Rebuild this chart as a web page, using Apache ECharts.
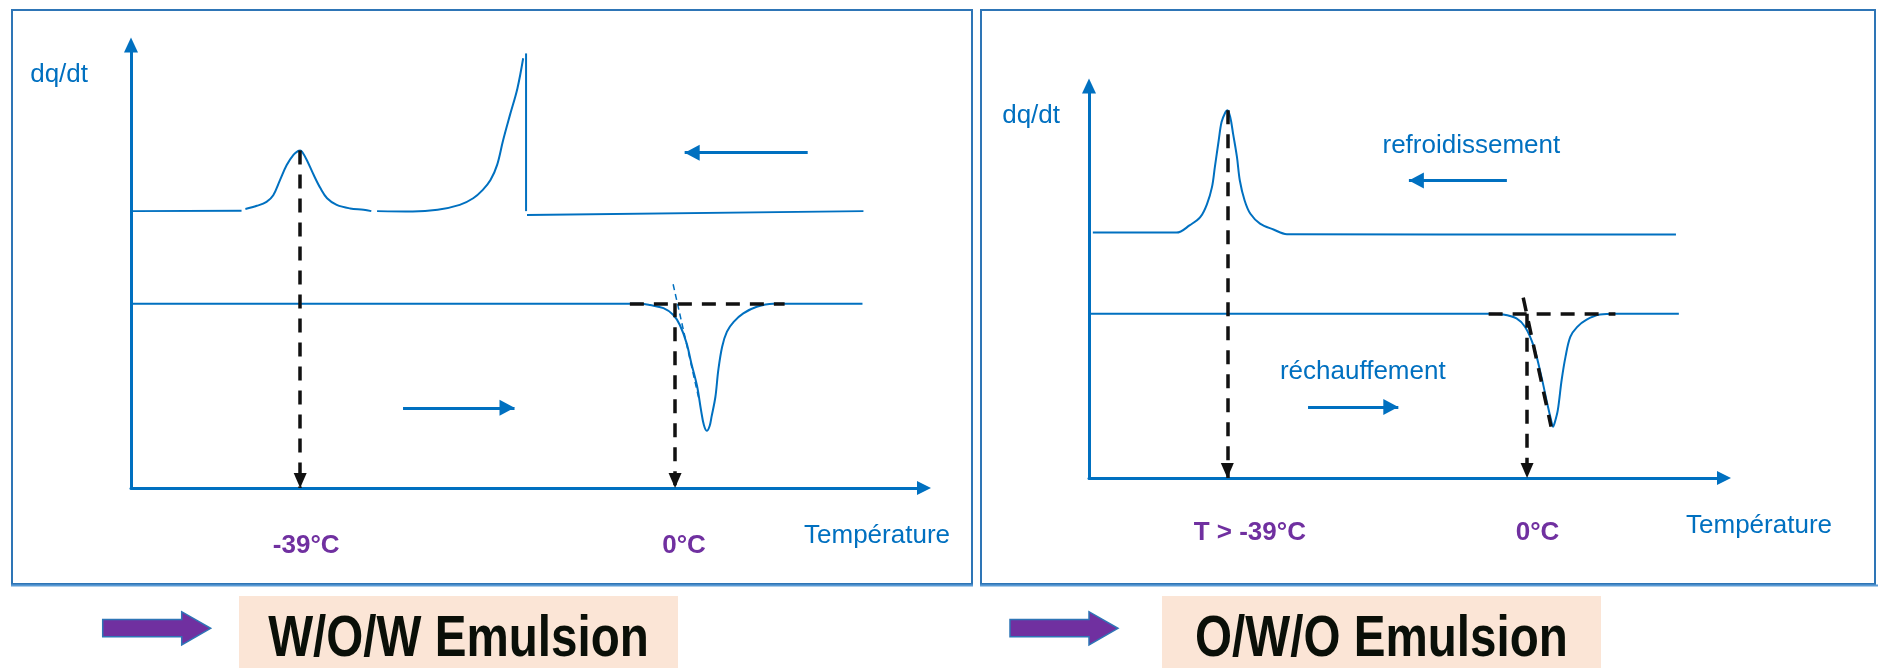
<!DOCTYPE html>
<html>
<head>
<meta charset="utf-8">
<title>DSC – émulsions multiples</title>
<script src="https://cdn.jsdelivr.net/npm/echarts@6/dist/echarts.min.js"></script>
<style>
  html, body { margin: 0; padding: 0; background: #ffffff; }
  #chart { width: 1878px; height: 668px; }
</style>
</head>
<body>
<div id="chart"></div>
<script>
// Thermograms: temperature in °C, heat flow dq/dt in arbitrary units (0–100).

// ---- W/O/W emulsion (left panel) ----
const wowTickValues = [-39, 0];
const wowTickLabels = ['-39°C', '0°C'];

// cooling trace, drawn in separate pieces
const wowCoolStart = [[-56.6, 62.5], [-45.1, 62.6]];
const wowCoolBump = [
  [-44.7, 63.0], [-43.5, 63.7], [-42.5, 64.6], [-41.8, 66.1], [-41.1, 69.5],
  [-40.4, 72.9], [-39.7, 75.2], [-39.2, 76.1], [-39.0, 76.2], [-38.8, 75.9],
  [-38.3, 74.0], [-37.6, 70.7], [-36.9, 67.7], [-36.2, 65.4], [-35.2, 63.9],
  [-33.8, 63.1], [-32.4, 62.8], [-31.6, 62.5]
];
const wowCoolRise = [
  [-31.0, 62.5], [-27.3, 62.4], [-24.7, 62.8], [-22.4, 63.9], [-21.0, 65.4],
  [-20.0, 67.3], [-19.2, 69.5], [-18.5, 73.0], [-17.9, 78.4], [-17.2, 84.0],
  [-16.4, 90.2], [-15.8, 97.0]
];
const wowCoolDrop = [[-15.5, 98.1], [-15.5, 62.5]];
const wowCoolTail = [[-15.4, 61.6], [19.6, 62.5]];

// heating trace
const wowHeat = [
  [-56.4, 41.6], [-3.6, 41.6], [-2.6, 41.3], [-1.2, 40.6], [-0.2, 39.1],
  [0.5, 36.8], [1.2, 32.7], [1.7, 28.1], [2.3, 22.9], [2.7, 17.6],
  [3.0, 14.2], [3.3, 12.9], [3.6, 14.0], [3.8, 16.1], [4.2, 20.6],
  [4.5, 26.6], [4.9, 31.9], [5.4, 35.3], [6.1, 37.5], [7.1, 39.4],
  [8.5, 40.9], [10.2, 41.6], [19.5, 41.6]
];
const wowOnsetTangent = [[-0.2, 46.0], [2.5, 19.9]];
const wowBaselineGuide = [[-4.7, 41.7], [11.4, 41.7]];
const wowCoolingArrow = [[13.8, 75.7], [1.0, 75.7]];
const wowHeatingArrow = [[-28.3, 18.1], [-16.7, 18.1]];

// ---- O/W/O emulsion (right panel) ----
const oooTickValues = [-31.2, 0];
const oooTickLabels = ['T > -39°C', '0°C'];

const oooCool = [
  [-45.2, 62.6], [-36.5, 62.6], [-35.1, 64.5], [-34.0, 66.6], [-33.3, 70.0],
  [-32.8, 74.2], [-32.5, 79.3], [-32.1, 86.1], [-31.8, 90.8], [-31.4, 93.3],
  [-31.2, 93.8], [-30.9, 92.1], [-30.6, 87.8], [-30.2, 81.9], [-29.9, 75.9],
  [-29.4, 70.8], [-28.8, 67.4], [-27.8, 64.9], [-26.4, 63.4], [-25.0, 62.2],
  [15.5, 62.1]
];
const oooHeat = [
  [-45.4, 41.9], [-4.0, 41.9], [-2.5, 41.7], [-1.1, 40.7], [-0.2, 38.5],
  [0.7, 33.5], [1.5, 25.8], [2.1, 19.0], [2.5, 14.8], [2.7, 13.1],
  [2.9, 14.3], [3.2, 17.3], [3.6, 25.0], [4.0, 30.9], [4.5, 36.0],
  [5.2, 38.5], [6.2, 40.4], [7.6, 41.7], [9.2, 41.9], [15.8, 41.9]
];
const oooOnsetTangent = [[-0.4, 46.0], [2.5, 13.1]];
const oooBaselineGuide = [[-4.0, 41.9], [9.2, 41.9]];
const oooCoolingArrow = [[-2.1, 75.9], [-12.3, 75.9]];
const oooHeatingArrow = [[-22.8, 18.1], [-13.4, 18.1]];
const oooNotes = ['refroidissement', 'réchauffement'];
const oooNoteAt = [[-5.8, 84.8], [-17.1, 27.0]];

const axisTitles = ['dq/dt', 'Température'];
const emulsionNames = ['W/O/W Emulsion', 'O/W/O Emulsion'];

// ---- styling ----
const BLUE = '#0070C0';
const PURPLE = '#7030A0';
const INK = '#111111';
const FONT = '"Liberation Sans", Arial, sans-serif';

function peakOf(points) {
  return points.reduce((a, b) => (b[1] > a[1] ? b : a));
}

function curve(name, data, gi, extra) {
  return Object.assign({
    name: name,
    type: 'line',
    xAxisIndex: gi,
    yAxisIndex: gi,
    data: data,
    symbol: 'none',
    showSymbol: false,
    smooth: 0.35,
    silent: true,
    animation: false,
    z: 2,
    lineStyle: { color: BLUE, width: 2 }
  }, extra || {});
}

function guides(items) {
  return {
    silent: true,
    animation: false,
    symbol: ['none', 'none'],
    label: { show: false },
    emphasis: { disabled: true },
    lineStyle: { color: INK, width: 3.5, type: [14, 10] },
    data: items.map(it => [
      { coord: it.from },
      it.arrow
        ? { coord: it.to, symbol: 'triangle', symbolSize: [13, 15], symbolOffset: [0, '50%'] }
        : { coord: it.to, symbol: 'none' }
    ])
  };
}

function directionArrows(arrows) {
  return {
    silent: true,
    animation: false,
    symbol: ['none', 'none'],
    label: { show: false },
    emphasis: { disabled: true },
    lineStyle: { color: BLUE, width: 3, type: 'solid' },
    data: arrows.map(a => [
      { coord: a[0] },
      { coord: a[1], symbol: 'triangle', symbolSize: [16, 15], symbolOffset: [0, '50%'] }
    ])
  };
}

function tickLabel(values, labels, shifts) {
  const rich = {};
  labels.forEach((_, i) => {
    rich['t' + i] = {
      color: PURPLE, fontSize: 26, fontWeight: 'bold', fontFamily: FONT,
      padding: [0, 0, 0, shifts[i]]
    };
  });
  return {
    rich: rich,
    formatter: function (v) {
      const i = values.findIndex(t => Math.abs(t - v) < 1e-6);
      return i < 0 ? '' : '{t' + i + '|' + labels[i] + '}';
    }
  };
}

function xAxisFor(gi, min, max, values, labels, shifts, margin) {
  const tl = tickLabel(values, labels, shifts);
  return {
    gridIndex: gi,
    type: 'value',
    min: min,
    max: max,
    axisLine: {
      show: true, onZero: false,
      lineStyle: { color: BLUE, width: 3 },
      symbol: ['none', 'triangle'], symbolSize: [14, 14]
    },
    axisTick: { show: false },
    splitLine: { show: false },
    axisLabel: {
      show: true,
      customValues: values,
      margin: margin,
      color: PURPLE, fontSize: 26, fontWeight: 'bold', fontFamily: FONT,
      formatter: tl.formatter,
      rich: tl.rich
    }
  };
}

function yAxisFor(gi, namePadRight) {
  return {
    gridIndex: gi,
    type: 'value',
    min: 0,
    max: 100,
    name: axisTitles[0],
    nameLocation: 'end',
    nameGap: -30,
    nameMoveOverlap: false,
    nameTextStyle: {
      color: BLUE, fontSize: 26, fontFamily: FONT,
      align: 'right', verticalAlign: 'middle', padding: [0, namePadRight, 0, 0]
    },
    axisLine: {
      show: true, onZero: false,
      lineStyle: { color: BLUE, width: 3 },
      symbol: ['none', 'triangle'], symbolSize: [14, 15]
    },
    axisTick: { show: false },
    axisLabel: { show: false },
    splitLine: { show: false }
  };
}

const wowPeak = peakOf(wowCoolBump);
const oooPeak = peakOf(oooCool);

function arrowShape(x0, yMid) {
  // horizontal block arrow: shaft 79 px, head 29 px
  return [
    [x0, yMid - 8.7], [x0 + 79, yMid - 8.7], [x0 + 79, yMid - 16.6],
    [x0 + 108, yMid], [x0 + 79, yMid + 16.7], [x0 + 79, yMid + 8.4],
    [x0, yMid + 8.4]
  ];
}

function axisTitleText(xRight, yMid) {
  return {
    type: 'text', z: 3, silent: true, x: xRight, y: yMid,
    style: { text: axisTitles[1], x: 0, y: 0, align: 'right', verticalAlign: 'middle',
             fill: BLUE, fontSize: 26, fontFamily: FONT }
  };
}

const option = {
  backgroundColor: '#ffffff',
  animation: false,
  grid: [
    { left: 131, top: 45, width: 793, height: 443, outerBoundsMode: 'none', containLabel: false },
    { left: 1089, top: 86, width: 635, height: 392, outerBoundsMode: 'none', containLabel: false }
  ],
  xAxis: [
    xAxisFor(0, -56.6, 25.9, wowTickValues, wowTickLabels, [12, 18], 45),
    xAxisFor(1, -45.6, 20.5, oooTickValues, oooTickLabels, [45, 21], 42)
  ],
  yAxis: [yAxisFor(0, 43), yAxisFor(1, 29)],
  series: [
    curve('W/O/W refroidissement 1', wowCoolStart, 0),
    curve('W/O/W refroidissement 2', wowCoolBump, 0),
    curve('W/O/W refroidissement 3', wowCoolRise, 0),
    curve('W/O/W refroidissement 4', wowCoolDrop, 0, { smooth: false }),
    curve('W/O/W refroidissement 5', wowCoolTail, 0, {
      smooth: false,
      markLine: directionArrows([wowCoolingArrow, wowHeatingArrow])
    }),
    curve('W/O/W réchauffement', wowHeat, 0, {
      markLine: guides([
        { from: [wowTickValues[0], wowPeak[1]], to: [wowTickValues[0], 0], arrow: true },
        { from: [wowTickValues[1], wowBaselineGuide[0][1]], to: [wowTickValues[1], 0], arrow: true },
        { from: wowBaselineGuide[0], to: wowBaselineGuide[1], arrow: false }
      ])
    }),
    curve('W/O/W tangente', wowOnsetTangent, 0, {
      smooth: false,
      z: 3,
      lineStyle: { color: BLUE, width: 1.5, type: [6, 4] }
    }),
    curve('O/W/O refroidissement', oooCool, 1, {
      markLine: directionArrows([oooCoolingArrow, oooHeatingArrow]),
      markPoint: {
        silent: true,
        animation: false,
        symbol: 'circle',
        symbolSize: 0,
        itemStyle: { color: 'transparent' },
        label: {
          show: true, position: 'inside', formatter: '{b}',
          color: BLUE, fontSize: 26, fontFamily: FONT
        },
        data: oooNotes.map((n, i) => ({ name: n, coord: oooNoteAt[i] }))
      }
    }),
    curve('O/W/O réchauffement', oooHeat, 1, {
      markLine: guides([
        { from: [oooTickValues[0], oooPeak[1]], to: [oooTickValues[0], 0], arrow: true },
        { from: [oooTickValues[1], oooBaselineGuide[0][1]], to: [oooTickValues[1], 0], arrow: true },
        { from: oooBaselineGuide[0], to: oooBaselineGuide[1], arrow: false },
        { from: oooOnsetTangent[0], to: oooOnsetTangent[1], arrow: false }
      ])
    })
  ],
  graphic: [
    // panel frames
    { type: 'rect', z: 0, silent: true, shape: { x: 12, y: 10, width: 960, height: 574 },
      style: { fill: 'none', stroke: '#2E75B6', lineWidth: 2 } },
    { type: 'rect', z: 0, silent: true, shape: { x: 981, y: 10, width: 894, height: 574 },
      style: { fill: 'none', stroke: '#2E75B6', lineWidth: 2 } },
    { type: 'line', z: 0, silent: true, shape: { x1: 11, y1: 585.5, x2: 973, y2: 585.5 },
      style: { stroke: '#5B9BD5', lineWidth: 2 } },
    { type: 'line', z: 0, silent: true, shape: { x1: 980, y1: 585.5, x2: 1878, y2: 585.5 },
      style: { stroke: '#5B9BD5', lineWidth: 2 } },
    // temperature axis titles
    axisTitleText(950, 536),
    axisTitleText(1832, 526),
    // caption boxes
    { type: 'rect', z: 0, silent: true, shape: { x: 239, y: 596, width: 439, height: 72 },
      style: { fill: '#FBE5D6' } },
    { type: 'rect', z: 0, silent: true, shape: { x: 1162, y: 596, width: 439, height: 72 },
      style: { fill: '#FBE5D6' } },
    // pointer arrows
    { type: 'polygon', z: 1, silent: true, shape: { points: arrowShape(102.7, 628.3) },
      style: { fill: PURPLE, stroke: '#2E75B6', lineWidth: 1.5 } },
    { type: 'polygon', z: 1, silent: true, shape: { points: arrowShape(1010, 628.3) },
      style: { fill: PURPLE, stroke: '#2E75B6', lineWidth: 1.5 } },
    // captions
    { type: 'text', z: 2, silent: true, x: 458.5, y: 640, scaleX: 0.835,
      style: { text: emulsionNames[0], x: 0, y: 0, align: 'center', verticalAlign: 'middle',
               fill: '#0a0f08', fontSize: 57, fontWeight: 'bold', fontFamily: FONT } },
    { type: 'text', z: 2, silent: true, x: 1381.5, y: 640, scaleX: 0.835,
      style: { text: emulsionNames[1], x: 0, y: 0, align: 'center', verticalAlign: 'middle',
               fill: '#0a0f08', fontSize: 57, fontWeight: 'bold', fontFamily: FONT } }
  ]
};

const chart = echarts.init(document.getElementById('chart'), null, { renderer: 'canvas' });
chart.setOption(option);
</script>
</body>
</html>
